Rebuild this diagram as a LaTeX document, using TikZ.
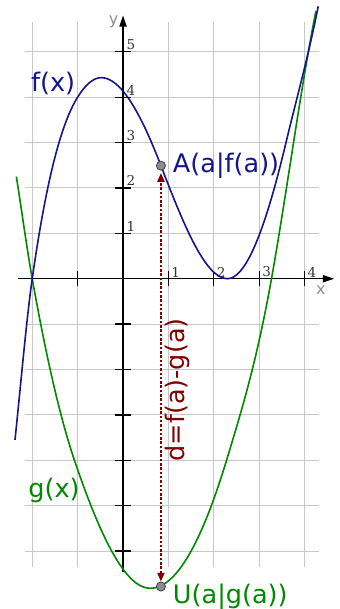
\documentclass[tikz,border=0pt]{standalone}
\usepackage{fontspec}
\usepackage{tikz}
\usetikzlibrary{arrows.meta,positioning}
\newfontfamily\labelfont{DejaVu Sans}
\newfontfamily\numfont{DejaVu Serif}
\definecolor{fblue}{RGB}{20,20,140}
\definecolor{ggreen}{RGB}{0,136,0}
\definecolor{dred}{RGB}{128,0,0}

\begin{document}
\begin{tikzpicture}[
  gridline/.style={draw=black!22, line width=0.6pt},
  axis/.style={-{Triangle[length=7pt,width=4.5pt]}, line width=0.8pt},
  tick/.style={line width=0.8pt},
  num/.style={font=\numfont\fontsize{8.5}{10}\selectfont, text=black!80, inner sep=0pt, anchor=south west},
  axlbl/.style={font=\labelfont\fontsize{10}{12}\selectfont, text=black!45, inner sep=0pt},
  lbl/.style={font=\labelfont\fontsize{16}{19}\selectfont, inner sep=0pt},
  curve/.style={line width=1pt},
  dot/.style={circle, draw=black!75, fill=black!45, minimum size=0.2cm, inner sep=0pt, line width=0.5pt},
  darrow/.style={{Triangle[length=5.5pt,width=4.5pt]}-{Triangle[length=5.5pt,width=4.5pt]}, dred, line width=1pt, dash pattern=on 1.6pt off 1.1pt}
]
\useasboundingbox (-2.71,-7.275) rectangle (4.76,6.14);
\draw[gridline] (-2.17,-6.34) grid (4.32,5.65);
\coordinate (xstart) at (-2.31,0);
\coordinate (xend) at (4.65,0);
\coordinate (ystart) at (0,-6.45);
\coordinate (yend) at (0,5.8);
\draw[axis] (xstart) -- (xend);
\draw[axis] (ystart) -- (yend);
\foreach \k in {-1,1,2,3,4} \draw[tick] (\k,-0.16) -- (\k,0.16);
\foreach \k in {-6,-5,-4,-3,-2,-1,1,2,3,4,5} \draw[tick] (-0.17,\k) -- (0.17,\k);
\foreach \k in {1,...,4} \node[num] (xn\k) at (\k+0.06,0.03) {\k};
\foreach \k in {1,...,5} \node[num] (yn\k) at (0.07,\k+0.04) {\k};
\node[axlbl] (xname) at (4.36,-0.26) {x};
\node[axlbl] (yname) at (-0.21,5.65) {y};
\draw[curve, ggreen] (-2.35,2.25) .. controls (-2.233,1.515) and (-2.117,0.653) .. (-2,0)
  .. controls (-1.69,-1.736) and (-1.38,-3.086) .. (-1.07,-4)
  .. controls (-0.513,-5.642) and (0.043,-6.82) .. (0.6,-6.82)
  .. controls (1.16,-6.82) and (1.72,-5.848) .. (2.28,-4)
  .. controls (2.61,-2.911) and (2.94,-1.848) .. (3.27,0)
  .. controls (3.597,1.83) and (3.923,4.267) .. (4.25,5.9);
\draw[curve, fblue] (-2.38,-3.55) .. controls (-2.253,-2.35) and (-2.127,-0.887) .. (-2,0)
  .. controls (-1.667,2.333) and (-1.333,3.467) .. (-1,4)
  .. controls (-0.827,4.277) and (-0.653,4.43) .. (-0.48,4.43)
  .. controls (-0.042,4.43) and (0.397,3.63) .. (0.835,2.49)
  .. controls (1.323,1.22) and (1.812,0) .. (2.3,0)
  .. controls (2.73,0) and (3.16,1.194) .. (3.59,3)
  .. controls (3.827,3.994) and (4.063,4.817) .. (4.3,6);
\node[dot] (A) at (0.835,2.49) {};
\node[dot] (U) at (0.835,-6.78) {};
\draw[darrow, shorten >=1.5pt] (U) -- (A);
\node[lbl, text=fblue, right=0.15cm of A] (Alabel) {A(a|f(a))};
\node[lbl, text=ggreen, right=0.15cm of U, yshift=-0.22cm] (Ulabel) {U(a|g(a))};
\node[lbl, text=fblue] (flabel) at (-1.54,4.3) {f(x)};
\node[lbl, text=ggreen] (glabel) at (-1.52,-4.67) {g(x)};
\node[lbl, text=dred, rotate=90] (dlabel) at (1.19,-2.45) {d=f(a)-g(a)};
\end{tikzpicture}
\end{document}
